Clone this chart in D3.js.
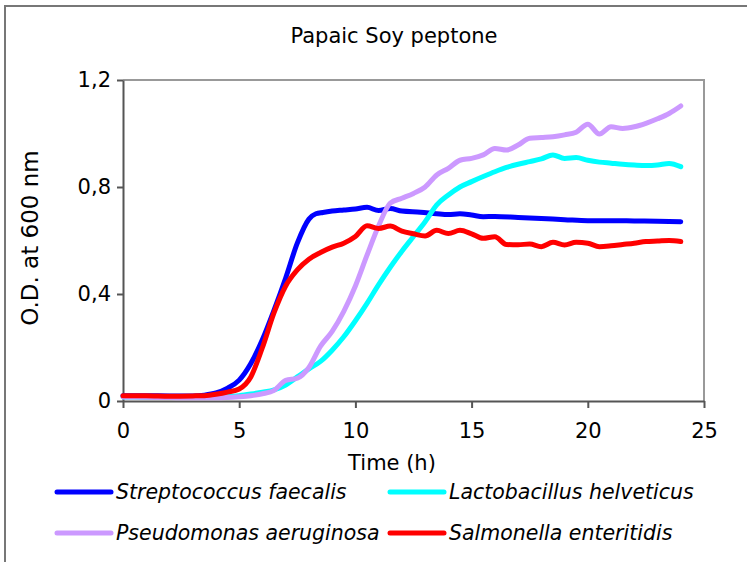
<!DOCTYPE html>
<html lang="en">
<head>
<meta charset="UTF-8">
<title>Papaic Soy peptone</title>
<style>
  body { margin: 0; background: #fff; }
  svg text { font-family: "DejaVu Sans", Verdana, sans-serif; fill: #000; }
  .axis path, .axis line { stroke: #555; stroke-width: 2; }
  .legend text { font-style: italic; font-size: 20.5px; }
</style>
</head>
<body>
<svg width="747" height="562"></svg>
<script src="https://d3js.org/d3.v7.min.js"></script>
<script>

// time points (h) and O.D. values
var strepTime = [0,1,2,3,3.5,4,4.5,5,5.5,6,6.5,7,7.5,8,8.3,8.6,9,9.5,10,10.5,11,11.5,12,12.8,13.5,14,14.5,15,15.5,16,17,18,19,20,21,22,23,24];
var strepOD   = [0.02,0.02,0.019,0.019,0.022,0.03,0.048,0.078,0.14,0.23,0.34,0.46,0.59,0.68,0.70,0.705,0.71,0.714,0.718,0.724,0.712,0.72,0.71,0.706,0.70,0.697,0.70,0.695,0.689,0.69,0.686,0.682,0.678,0.674,0.674,0.673,0.672,0.670];

var halfTime = [0,1,2,3,4,5,5.5,6,6.5,7,7.5,8,8.5,9,9.5,10,10.5,11,11.5,12,12.5,13,13.5,14,14.5,15,15.5,16,16.5,17,17.5,18,18.5,19,19.5,20,20.5,21,21.5,22,22.5,23,23.5,24];
var lactoOD   = [0.015,0.014,0.013,0.013,0.014,0.02,0.026,0.033,0.042,0.06,0.09,0.12,0.148,0.19,0.24,0.3,0.365,0.435,0.5,0.56,0.615,0.67,0.733,0.77,0.80,0.82,0.839,0.857,0.873,0.885,0.895,0.905,0.92,0.907,0.91,0.9,0.893,0.889,0.885,0.882,0.88,0.882,0.888,0.876];
var pseudoOD  = [0.015,0.014,0.013,0.012,0.012,0.016,0.02,0.027,0.04,0.077,0.085,0.125,0.205,0.26,0.335,0.43,0.545,0.655,0.74,0.758,0.776,0.80,0.845,0.87,0.90,0.907,0.92,0.944,0.938,0.957,0.982,0.985,0.988,0.995,1.005,1.035,0.998,1.025,1.019,1.025,1.038,1.055,1.075,1.103];

var salmoTime = [0,1,2,3,3.5,4,4.5,5,5.5,6,6.5,7,7.5,8,8.5,9,9.5,10,10.5,11,11.5,12,12.5,13,13.5,14,14.5,15,15.5,16,16.5,17,17.5,18,18.5,19,19.5,20,20.5,21,21.5,22,22.5,23,23.5,24];
var salmoOD   = [0.02,0.02,0.018,0.019,0.02,0.025,0.033,0.045,0.09,0.2,0.33,0.43,0.49,0.53,0.555,0.575,0.59,0.615,0.655,0.645,0.654,0.635,0.625,0.617,0.638,0.626,0.638,0.625,0.608,0.614,0.585,0.584,0.587,0.577,0.593,0.583,0.593,0.59,0.577,0.58,0.585,0.59,0.596,0.598,0.6,0.596];

var seriesNames  = ["Streptococcus faecalis", "Lactobacillus helveticus", "Pseudomonas aeruginosa", "Salmonella enteritidis"];
var seriesColors = ["#0000ff", "#00ffff", "#cc99ff", "#ff0000"];
var seriesTimes  = [strepTime, halfTime, halfTime, salmoTime];
var seriesValues = [strepOD, lactoOD, pseudoOD, salmoOD];

var xTicks = [0, 5, 10, 15, 20, 25];
var yTicks = [0, 0.4, 0.8, 1.2];

var svg = d3.select("svg"),
    margin = {top: 80, right: 43, bottom: 161, left: 123},
    width = +svg.attr("width") - margin.left - margin.right,
    height = +svg.attr("height") - margin.top - margin.bottom;

// outer chart frame
svg.append("path")
    .attr("d", "M5,562V6H747")
    .attr("fill", "none")
    .attr("stroke", "#777")
    .attr("stroke-width", 2);

svg.append("text")
    .attr("x", 394)
    .attr("y", 43)
    .attr("text-anchor", "middle")
    .style("font-size", "21px")
    .text("Papaic Soy peptone");

var g = svg.append("g").attr("transform", "translate(" + margin.left + "," + margin.top + ")");

var x = d3.scaleLinear().domain([0, 25]).range([0, width]);
var y = d3.scaleLinear().domain([0, 1.2]).range([height, 0]);

// plot area box (top & right)
g.append("path")
    .attr("d", "M0,0H" + width + "V" + height)
    .attr("fill", "none")
    .attr("stroke", "#999")
    .attr("stroke-width", 2);

var commaFmt = function(d) { return d === 0 ? "0" : d3.format(".1f")(d).replace(".", ","); };

g.append("g")
    .attr("class", "axis")
    .call(d3.axisLeft(y).tickValues(yTicks).tickFormat(commaFmt).tickSize(6).tickPadding(6).tickSizeOuter(0))
    .selectAll("text").style("font-size", "21px");

g.append("g")
    .attr("class", "axis")
    .attr("transform", "translate(0," + height + ")")
    .call(d3.axisBottom(x).tickValues(xTicks).tickSize(7).tickPadding(15).tickSizeOuter(0))
    .selectAll("text").style("font-size", "21px");

g.selectAll(".axis text").attr("fill", "#000");

svg.append("text")
    .attr("transform", "translate(38,238) rotate(-90)")
    .attr("text-anchor", "middle")
    .style("font-size", "23px")
    .text("O.D. at 600 nm");

svg.append("text")
    .attr("x", 392)
    .attr("y", 470)
    .attr("text-anchor", "middle")
    .style("font-size", "21px")
    .text("Time (h)");

var line = d3.line()
    .x(function(d) { return x(d[0]); })
    .y(function(d) { return y(d[1]); })
    .curve(d3.curveMonotoneX);

seriesNames.forEach(function(name, i) {
  var pts = seriesTimes[i].map(function(t, j) { return [t, seriesValues[i][j]]; });
  g.append("path")
      .datum(pts)
      .attr("fill", "none")
      .attr("stroke", seriesColors[i])
      .attr("stroke-width", 5)
      .attr("stroke-linejoin", "round")
      .attr("stroke-linecap", "round")
      .attr("d", line);
});

var legend = svg.append("g").attr("class", "legend");
var item = legend.selectAll("g")
  .data(seriesNames)
  .enter().append("g")
    .attr("transform", function(d, i) { return "translate(" + (i % 2 ? 390 : 57) + "," + (i < 2 ? 492 : 533) + ")"; });

item.append("line")
    .attr("x1", 0).attr("x2", 54)
    .attr("stroke", function(d, i) { return seriesColors[i]; })
    .attr("stroke-width", 5)
    .attr("stroke-linecap", "round");

item.append("text")
    .attr("x", 59)
    .attr("dy", "0.35em")
    .text(function(d) { return d; });

</script>
</body>
</html>
